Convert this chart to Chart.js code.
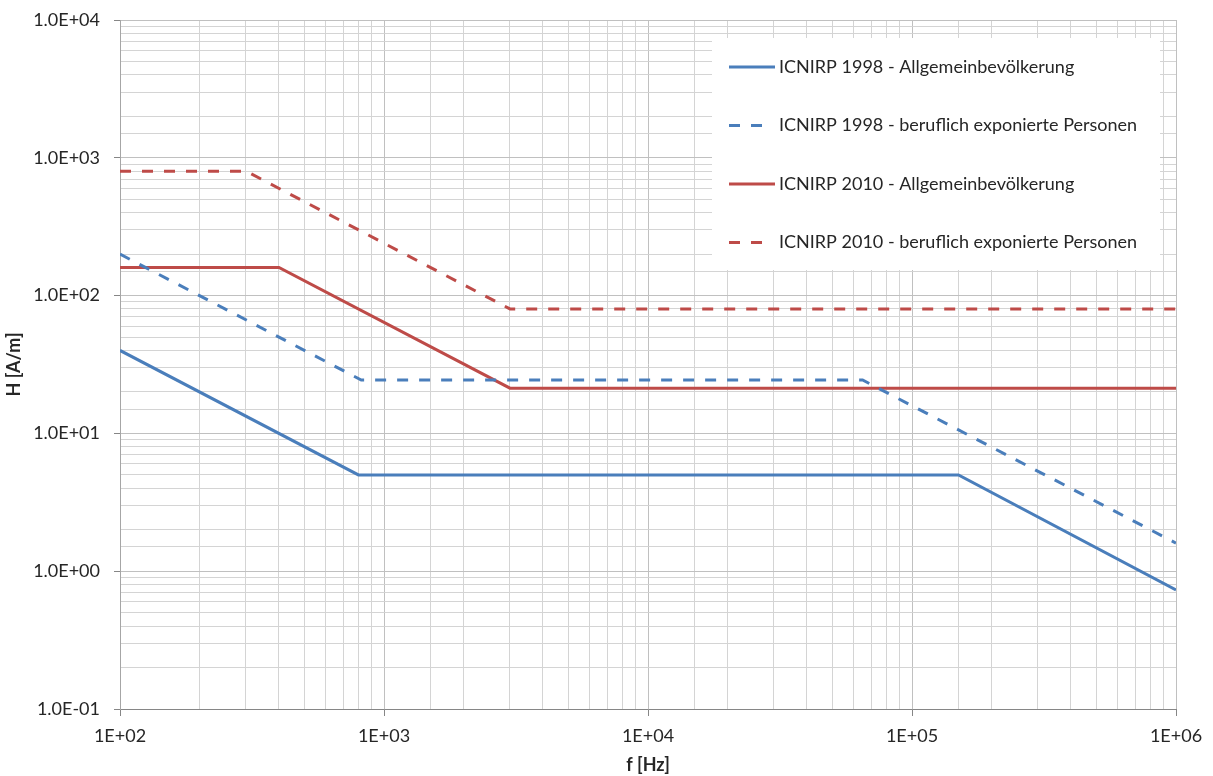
<!DOCTYPE html>
<html>
<head>
<meta charset="utf-8">
<script src="https://cdn.jsdelivr.net/npm/chart.js@4"></script>
<style>
  html, body { margin: 0; padding: 0; background: #fff; }
  #wrap { width: 1213px; height: 776px; }
</style>
</head>
<body>
<div id="wrap"><canvas id="grafico"></canvas></div>
<script>
// Grenzwerte magnetische Feldstärke H [A/m] über Frequenz f [Hz]
const seriesNames = [
  'ICNIRP 1998 - Allgemeinbevölkerung',
  'ICNIRP 1998 - beruflich exponierte Personen',
  'ICNIRP 2010 - Allgemeinbevölkerung',
  'ICNIRP 2010 - beruflich exponierte Personen'
];

const f1998allg = [100, 800, 150000, 1000000];
const h1998allg = [40, 5, 5, 0.73];

const f1998beruf = [100, 820, 65000, 1000000];
const h1998beruf = [200, 24.4, 24.4, 1.6];

const f2010allg = [100, 400, 3000, 1000000];
const h2010allg = [160, 160, 21.3, 21.3];

const f2010beruf = [100, 300, 3000, 1000000];
const h2010beruf = [800, 800, 80, 80];

const xTicks = [1e2, 1e3, 1e4, 1e5, 1e6];
const xTickLabels = ['1E+02', '1E+03', '1E+04', '1E+05', '1E+06'];
const yTicks = [1e-1, 1e0, 1e1, 1e2, 1e3, 1e4];
const yTickLabels = ['1.0E-01', '1.0E+00', '1.0E+01', '1.0E+02', '1.0E+03', '1.0E+04'];

const blau = '#4a7ebb';
const rot = '#be4b48';
const fontFamily = 'Lato, "Open Sans", sans-serif';

function punkte(fs, hs) {
  return fs.map((f, i) => ({ x: f, y: hs[i] }));
}

function findeTick(liste, v) {
  return liste.findIndex(t => Math.abs(Math.log10(t) - Math.log10(v)) < 1e-6);
}

function gridFarbe(liste) {
  return ctx => {
    const v = ctx.tick ? ctx.tick.value : null;
    if (v == null) return '#d4d4d4';
    return findeTick(liste, v) >= 0 ? '#c0c0c0' : '#d4d4d4';
  };
}

function tickFarbe(liste) {
  return ctx => {
    const v = ctx.tick ? ctx.tick.value : null;
    return (v != null && findeTick(liste, v) >= 0) ? '#868686' : 'rgba(0,0,0,0)';
  };
}

// Legende innerhalb der Zeichenfläche
const legendeInnen = {
  id: 'legendeInnen',
  afterDraw(chart) {
    const c = chart.ctx;
    const x0 = 712, y0 = 38, w = 448, h = 232;
    c.save();
    c.fillStyle = '#ffffff';
    c.fillRect(x0, y0, w, h);
    c.font = '18px ' + fontFamily;
    c.textBaseline = 'middle';
    c.fillStyle = '#262626';
    chart.data.datasets.forEach((ds, i) => {
      const y = 67 + i * 58.5;
      c.strokeStyle = ds.borderColor;
      c.lineWidth = 3;
      c.setLineDash(ds.borderDash || []);
      c.beginPath();
      c.moveTo(729, y);
      c.lineTo(ds.borderDash ? 763 : 775, y);
      c.stroke();
      c.setLineDash([]);
      c.fillText(ds.label, 779, y);
    });
    c.restore();
  }
};

const ctx = document.getElementById('grafico').getContext('2d');
new Chart(ctx, {
  type: 'line',
  data: {
    datasets: [
      { label: seriesNames[0], data: punkte(f1998allg, h1998allg), borderColor: blau, borderWidth: 3 },
      { label: seriesNames[1], data: punkte(f1998beruf, h1998beruf), borderColor: blau, borderWidth: 3, borderDash: [11, 11] },
      { label: seriesNames[2], data: punkte(f2010allg, h2010allg), borderColor: rot, borderWidth: 3 },
      { label: seriesNames[3], data: punkte(f2010beruf, h2010beruf), borderColor: rot, borderWidth: 3, borderDash: [11, 11] }
    ]
  },
  options: {
    responsive: true,
    maintainAspectRatio: false,
    animation: false,
    elements: { point: { radius: 0 }, line: { tension: 0, fill: false } },
    layout: { padding: { top: 20, right: 37, bottom: 0, left: 0 } },
    plugins: {
      legend: { display: false },
      tooltip: { enabled: false }
    },
    scales: {
      x: {
        type: 'logarithmic',
        min: 100,
        max: 1000000,
        afterFit: s => { s.height = 67; s.paddingLeft = 0; s.paddingRight = 0; },
        border: { color: '#868686', width: 1 },
        grid: { color: gridFarbe(xTicks), tickColor: tickFarbe(xTicks), tickLength: 7 },
        ticks: {
          autoSkip: false,
          maxRotation: 0,
          padding: 9,
          color: '#262626',
          font: { family: fontFamily, size: 18 },
          callback: v => {
            const i = findeTick(xTicks, v);
            return i >= 0 ? xTickLabels[i] : '';
          }
        },
        title: {
          display: true,
          text: 'f [Hz]',
          color: '#262626',
          font: { family: fontFamily, size: 18, weight: 'bold' },
          padding: { top: 0, bottom: 0 }
        }
      },
      y: {
        type: 'logarithmic',
        min: 0.1,
        max: 10000,
        afterFit: s => { s.width = 120; s.paddingTop = 0; s.paddingBottom = 0; },
        border: { color: '#a6a6a6', width: 1 },
        grid: { color: gridFarbe(yTicks), tickColor: tickFarbe(yTicks), tickLength: 6 },
        ticks: {
          autoSkip: false,
          padding: 14,
          color: '#262626',
          font: { family: fontFamily, size: 18 },
          callback: v => {
            const i = findeTick(yTicks, v);
            return i >= 0 ? yTickLabels[i] : '';
          }
        },
        title: {
          display: true,
          text: 'H [A/m]',
          color: '#262626',
          font: { family: fontFamily, size: 18, weight: 'bold' },
          padding: { top: 3, bottom: 0 }
        }
      }
    }
  },
  plugins: [legendeInnen]
});
</script>
</body>
</html>
